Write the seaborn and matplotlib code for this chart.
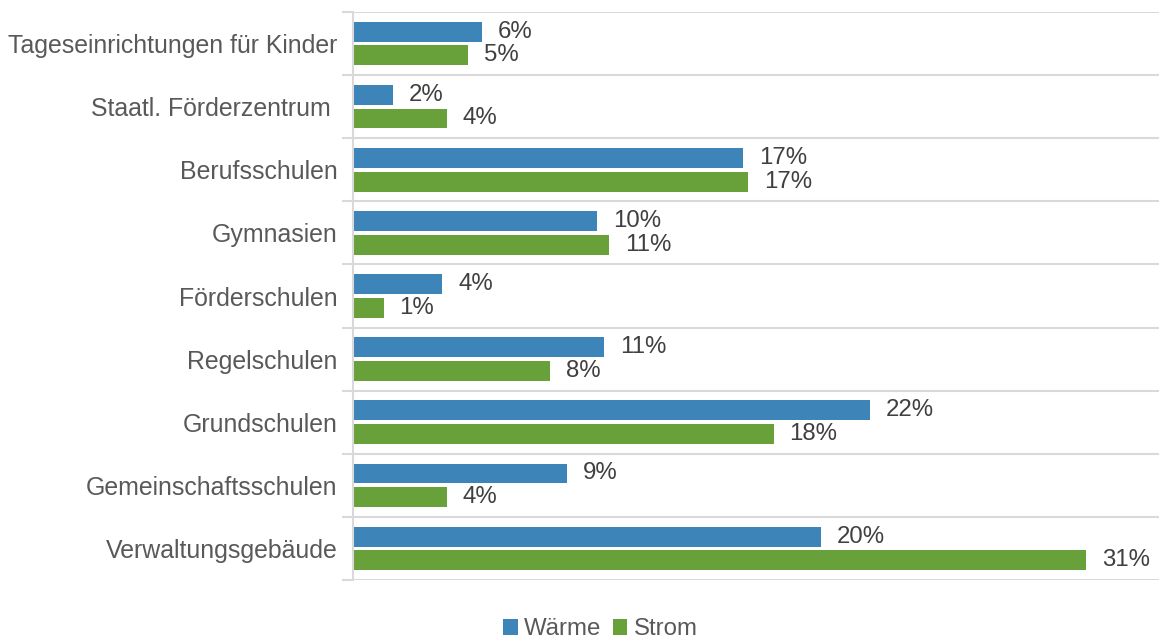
import matplotlib
matplotlib.use("Agg")
import matplotlib.pyplot as plt
import seaborn as sns
import pandas as pd
import numpy as np

categories = ["Tageseinrichtungen für Kinder", "Staatl. Förderzentrum ", "Berufsschulen",
              "Gymnasien", "Förderschulen", "Regelschulen", "Grundschulen",
              "Gemeinschaftsschulen", "Verwaltungsgebäude"]
waerme = [5.5, 1.7, 16.6, 10.4, 3.8, 10.7, 22.0, 9.1, 19.9]
strom = [4.9, 4.0, 16.8, 10.9, 1.3, 8.4, 17.9, 4.0, 31.2]
waerme_labels = ["6%", "2%", "17%", "10%", "4%", "11%", "22%", "9%", "20%"]
strom_labels = ["5%", "4%", "17%", "11%", "1%", "8%", "18%", "4%", "31%"]
series = ["Wärme", "Strom"]
colors = ["#3d84b9", "#68a03a"]

df = pd.DataFrame({
    "Kategorie": categories * 2,
    "Wert": waerme + strom,
    "Art": [series[0]] * len(categories) + [series[1]] * len(categories),
})

sns.set_theme(style="white")
plt.rcParams["font.family"] = ["Liberation Sans", "DejaVu Sans"]
txt = "#404040"
cat_txt = "#595959"

fig = plt.figure(figsize=(11.59, 6.41), dpi=100)
ax = fig.add_axes([353 / 1159, 1 - 580 / 641, 1 - 353 / 1159, (580 - 12) / 641])

sns.barplot(data=df, y="Kategorie", x="Wert", hue="Art", order=categories,
            hue_order=series, palette=colors, orient="h", width=0.75, gap=0.155,
            saturation=1, linewidth=0, ax=ax, legend=True)

for cont, labs in zip(ax.containers, [waerme_labels, strom_labels]):
    ax.bar_label(cont, labels=labs, padding=11.5, fontsize=17.3, color=txt)

ax.set_xlim(0, 34.3)
ax.set_ylim(len(categories) - 0.5, -0.5)
ax.set_xlabel("")
ax.set_ylabel("")
ax.set_xticks([])
ax.set_yticks(np.arange(len(categories)))
ax.set_yticklabels(categories, fontsize=17.9, color=cat_txt)
ax.set_yticks(np.arange(len(categories) + 1) - 0.5, minor=True)
ax.tick_params(axis="y", which="major", length=0, pad=11)
ax.tick_params(axis="y", which="minor", length=8, width=1.5, color="#d9d9d9", left=True)
ax.grid(False)
ax.grid(True, which="minor", axis="y", color="#d9d9d9", linewidth=1.5)
ax.set_axisbelow(True)
for s in ["top", "right", "bottom"]:
    ax.spines[s].set_visible(False)
ax.spines["left"].set_color("#d9d9d9")
ax.spines["left"].set_linewidth(1.5)

handles, labels = ax.get_legend_handles_labels()
ax.get_legend().remove()
fig.legend(handles, labels, loc="center", bbox_to_anchor=(0.518, 0.018), ncol=2,
           frameon=False, fontsize=17.3, handlelength=0.6, handleheight=0.6,
           handletextpad=0.25, columnspacing=0.5, labelcolor=cat_txt)

fig.savefig("out.png", dpi=100)
